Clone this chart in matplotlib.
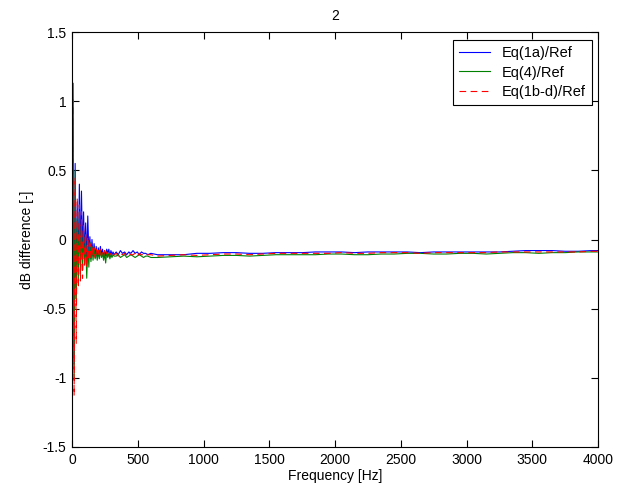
import matplotlib
matplotlib.use("Agg")
import matplotlib.pyplot as plt
from matplotlib.ticker import FuncFormatter

plt.rcParams['font.family'] = ['Liberation Sans', 'DejaVu Sans']
plt.rcParams['axes.unicode_minus'] = False

# ---- data ----
freq_low = [0, 8, 16, 24, 32, 40, 48, 56, 64, 72, 80, 88, 96, 104, 112, 120,
            128, 136, 144, 152, 160, 168, 176, 184, 192, 200, 208, 216, 224,
            232, 240, 248, 256, 264, 272, 280, 288, 296, 304, 312, 320]
freq_mid = [336, 352, 368, 384, 400, 416, 432, 448, 464, 480, 496, 512, 528,
            544, 560, 576, 600]
freq_high = [650, 750, 850, 950, 1050, 1150, 1250, 1350, 1450, 1550, 1650,
             1750, 1850, 1950, 2050, 2150, 2250, 2350, 2450, 2550, 2650, 2750,
             2850, 2950, 3050, 3150, 3250, 3350, 3450, 3550, 3650, 3750, 3850,
             3950, 4000]

eq1a_low = [0.30, 1.13, -0.90, 0.55, -0.40, 0.25, -0.20, 0.40, -0.15, 0.35,
            -0.10, 0.20, -0.12, 0.12, -0.15, 0.17, -0.10, 0.02, -0.14, 0.00,
            -0.12, -0.03, -0.12, -0.05, -0.13, -0.06, -0.12, -0.05, -0.11,
            -0.07, -0.13, -0.08, -0.12, -0.07, -0.10, -0.07, -0.12, -0.08,
            -0.11, -0.09, -0.11]
eq1a_mid = [-0.09, -0.11, -0.08, -0.10, -0.09, -0.11, -0.09, -0.10, -0.08,
            -0.10, -0.09, -0.11, -0.09, -0.10, -0.10, -0.11, -0.10]
eq1a_high = [-0.11, -0.11, -0.11, -0.10, -0.10, -0.095, -0.095, -0.10, -0.10,
             -0.095, -0.095, -0.095, -0.09, -0.09, -0.09, -0.095, -0.09, -0.09,
             -0.09, -0.09, -0.095, -0.09, -0.09, -0.09, -0.09, -0.09, -0.09,
             -0.085, -0.08, -0.08, -0.08, -0.085, -0.085, -0.08, -0.08]

eq4_low = [0.20, 0.80, -1.00, 0.50, -0.45, 0.15, -0.30, 0.20, -0.25, 0.10,
           -0.22, 0.05, -0.18, 0.00, -0.28, -0.05, -0.20, -0.02, -0.16, -0.05,
           -0.15, -0.06, -0.14, -0.08, -0.15, -0.09, -0.14, -0.08, -0.13,
           -0.10, -0.15, -0.10, -0.17, -0.09, -0.13, -0.10, -0.14, -0.11,
           -0.13, -0.11, -0.12]
eq4_mid = [-0.12, -0.11, -0.13, -0.12, -0.11, -0.13, -0.12, -0.11, -0.12,
           -0.13, -0.12, -0.11, -0.12, -0.13, -0.12, -0.12, -0.13]
eq4_high = [-0.13, -0.125, -0.12, -0.125, -0.12, -0.115, -0.115, -0.12, -0.115,
            -0.11, -0.11, -0.11, -0.11, -0.105, -0.105, -0.11, -0.11, -0.105,
            -0.105, -0.10, -0.10, -0.105, -0.105, -0.10, -0.10, -0.105, -0.10,
            -0.095, -0.095, -0.10, -0.095, -0.095, -0.09, -0.09, -0.09]

eq1bd_low = [0.10, 1.01, -1.13, 0.45, -0.75, 0.30, -0.35, 0.25, -0.30, 0.20,
             -0.28, 0.10, -0.20, 0.05, -0.20, 0.02, -0.15, -0.03, -0.13, -0.04,
             -0.12, -0.06, -0.13, -0.07, -0.12, -0.08, -0.13, -0.07, -0.12,
             -0.09, -0.12, -0.08, -0.11, -0.09, -0.12, -0.09, -0.11, -0.10,
             -0.12, -0.10, -0.11]
eq1bd_mid = [-0.10, -0.12, -0.10, -0.11, -0.10, -0.12, -0.10, -0.11, -0.11,
             -0.10, -0.12, -0.10, -0.11, -0.11, -0.10, -0.11, -0.11]
eq1bd_high = [-0.12, -0.115, -0.11, -0.115, -0.11, -0.105, -0.105, -0.11,
              -0.105, -0.10, -0.10, -0.10, -0.10, -0.10, -0.095, -0.10, -0.10,
              -0.095, -0.095, -0.095, -0.10, -0.095, -0.095, -0.095, -0.095,
              -0.095, -0.09, -0.09, -0.09, -0.09, -0.09, -0.09, -0.09, -0.085,
              -0.085]

series_labels = ['Eq(1a)/Ref', 'Eq(4)/Ref', 'Eq(1b-d)/Ref']
x_ticks = [0, 500, 1000, 1500, 2000, 2500, 3000, 3500, 4000]
y_ticks = [-1.5, -1, -0.5, 0, 0.5, 1, 1.5]

freq = freq_low + freq_mid + freq_high
eq1a = eq1a_low + eq1a_mid + eq1a_high
eq4 = eq4_low + eq4_mid + eq4_high
eq1bd = eq1bd_low + eq1bd_mid + eq1bd_high

# ---- plot ----
fig = plt.figure(figsize=(6.33, 4.93), dpi=100)
ax = fig.add_axes([72/633, 1-447/493, (598-72)/633, (447-32)/493])

ax.plot(freq, eq1a, color=(0, 0, 1), lw=0.8, label=series_labels[0])
ax.plot(freq, eq4, color=(0, 0.5, 0), lw=0.8, label=series_labels[1])
ax.plot(freq, eq1bd, color=(1, 0, 0), lw=0.8, dashes=(6, 4),
        label=series_labels[2])

ax.set_xlim(0, 4000)
ax.set_ylim(-1.5, 1.5)
ax.set_xticks(x_ticks)
ax.set_yticks(y_ticks)
ax.yaxis.set_major_formatter(FuncFormatter(lambda v, p: '%g' % v))
ax.tick_params(direction='in', length=5, width=0.8, labelsize=10,
               top=True, right=True, pad=4)
for s in ax.spines.values():
    s.set_linewidth(0.8)

ax.set_xlabel('Frequency [Hz]', fontsize=10, labelpad=2)
ax.set_ylabel('dB difference [-]', fontsize=10, labelpad=6)
ax.set_title('2', fontsize=10, pad=9)

leg = ax.legend(loc='upper right', bbox_to_anchor=(0.989, 0.981),
                borderaxespad=0, fontsize=10.5, fancybox=False,
                edgecolor='black', framealpha=1, handlelength=2.1,
                borderpad=0.45, labelspacing=0.35, handletextpad=0.8)
leg.get_frame().set_linewidth(0.8)

fig.savefig('out.png', dpi=100)
